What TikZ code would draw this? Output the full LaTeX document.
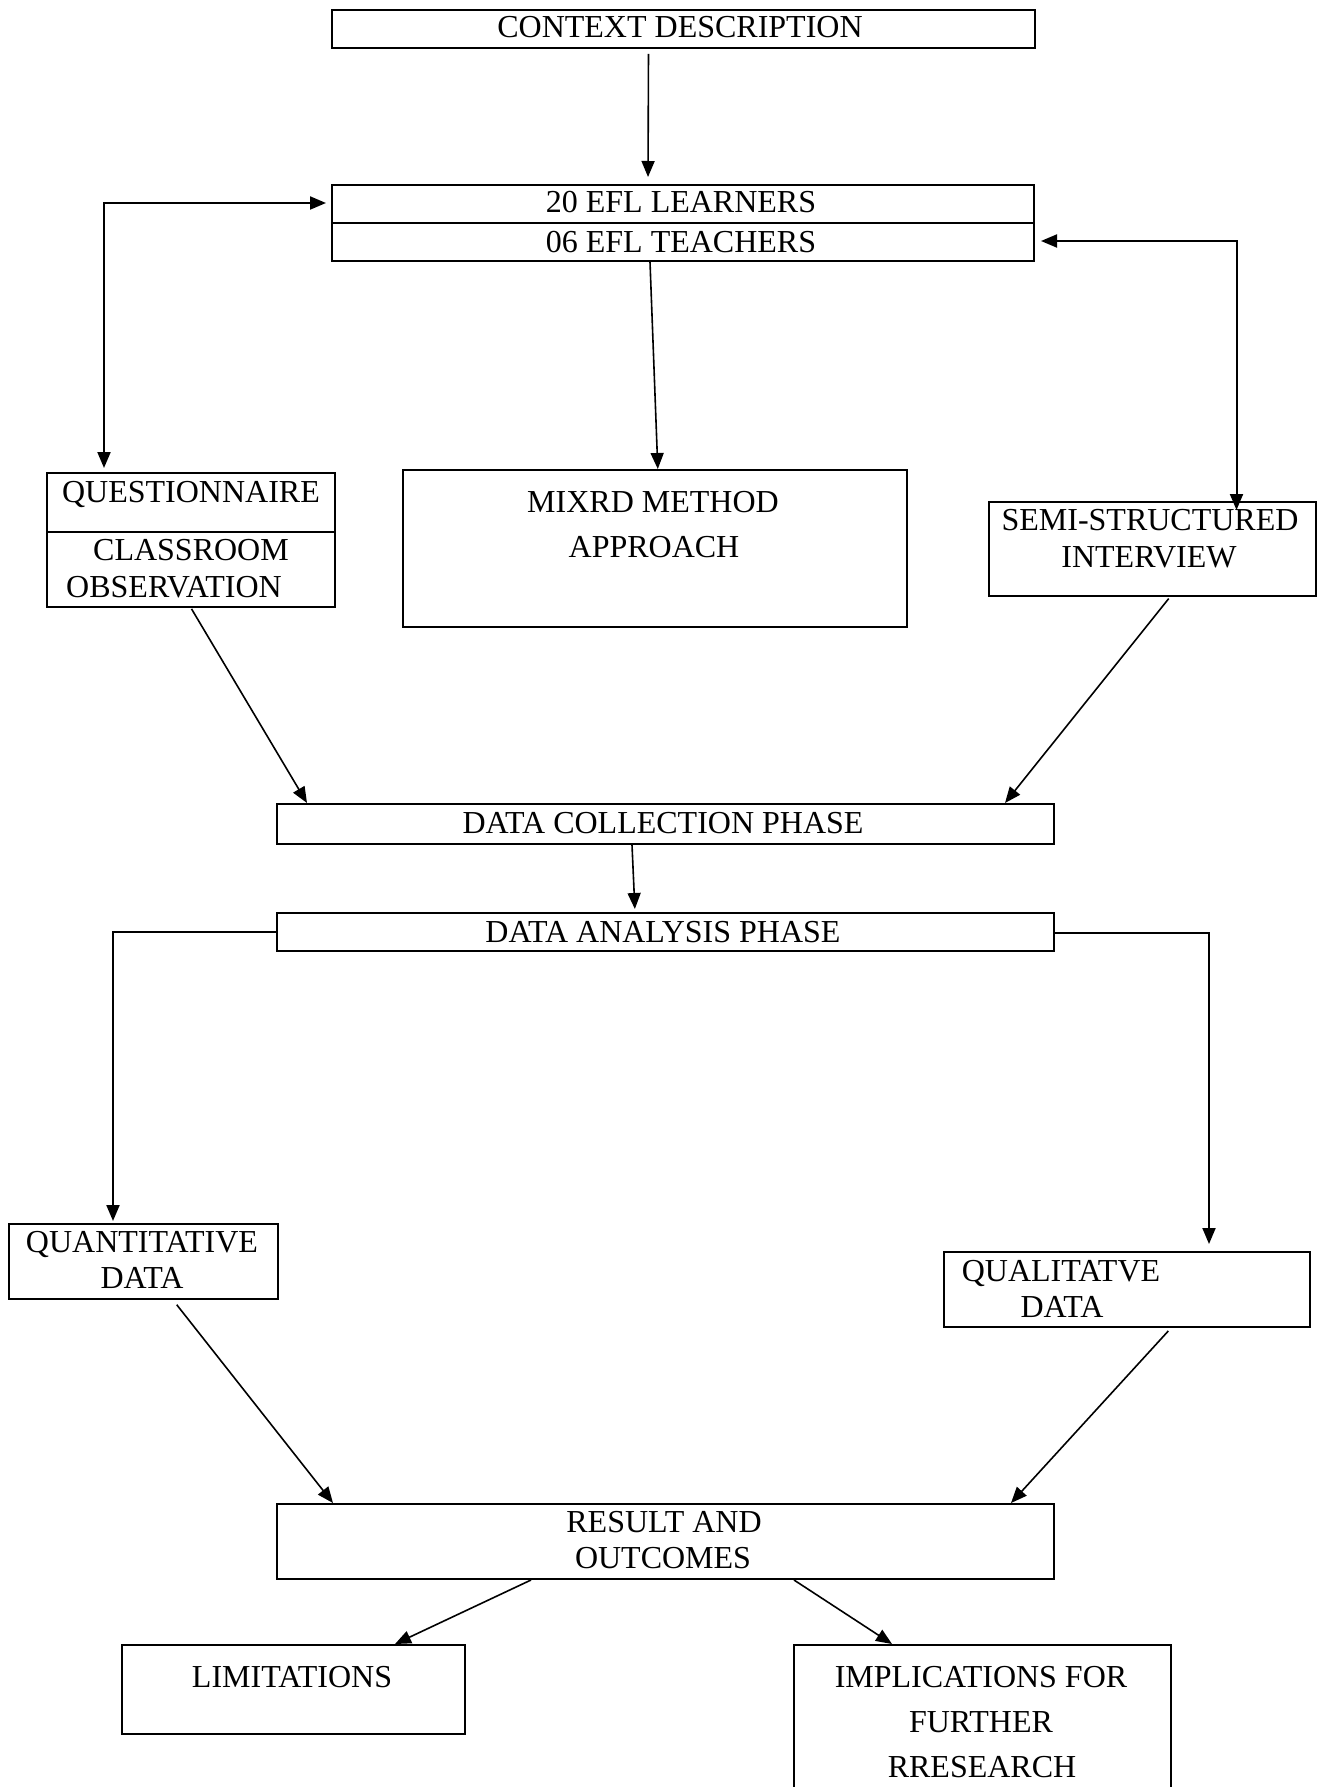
\documentclass[tikz,border=0pt]{standalone}
\usepackage{fontspec}
\setmainfont{Liberation Serif}
\usetikzlibrary{arrows.meta}
\begin{document}
\begin{tikzpicture}[x=1pt,y=-1pt,
  box/.style={draw, line width=2pt, rectangle, inner sep=0pt, anchor=north west},
  lbl/.style={anchor=base, inner sep=0pt, font=\fontsize{32}{36}\selectfont},
  tip/.tip={Triangle[length=16pt,width=13pt]},
  link/.style={line width=1.6pt, -tip},
  elbow/.style={line width=2pt}]
\useasboundingbox (0,0) rectangle (1323,1787);

% boxes
\node[box, minimum width=703pt, minimum height=38pt] (ctx)   at (331,9) {};
\node[box, minimum width=702pt, minimum height=38pt] (learn) at (331,184) {};
\node[box, minimum width=702pt, minimum height=38pt] (teach) at (331,222) {};
\node[box, minimum width=288pt, minimum height=59pt] (quest) at (46,472) {};
\node[box, minimum width=288pt, minimum height=75pt] (obs)   at (46,531) {};
\node[box, minimum width=504pt, minimum height=157pt, line width=1.6pt] (mix) at (402,469) {};
\node[box, minimum width=327pt, minimum height=94pt] (semi)  at (988,501) {};
\node[box, minimum width=777pt, minimum height=40pt] (coll)  at (276,803) {};
\node[box, minimum width=777pt, minimum height=38pt] (anal)  at (276,912) {};
\node[box, minimum width=269pt, minimum height=75pt] (quant) at (8,1223) {};
\node[box, minimum width=366pt, minimum height=75pt] (qual)  at (943,1251) {};
\node[box, minimum width=777pt, minimum height=75pt] (res)   at (276,1503) {};
\node[box, minimum width=343pt, minimum height=89pt] (lim)   at (121,1644) {};
\node[box, minimum width=377pt, minimum height=170pt] (impl) at (793,1644) {};

% labels
\node[lbl] (t-ctx)   at (680,38)   {CONTEXT DESCRIPTION};
\node[lbl] (t-learn) at (681,213)  {20 EFL LEARNERS};
\node[lbl] (t-teach) at (681,252)  {06 EFL TEACHERS};
\node[lbl] (t-quest) at (191,502)  {QUESTIONNAIRE};
\node[lbl] (t-obs1)  at (191,560)  {CLASSROOM};
\node[lbl] (t-obs2)  at (174,597)  {OBSERVATION};
\node[lbl] (t-mix1)  at (653,512)  {MIXRD METHOD};
\node[lbl] (t-mix2)  at (654,557)  {APPROACH};
\node[lbl] (t-semi1) at (1150,530) {SEMI-STRUCTURED};
\node[lbl] (t-semi2) at (1149,567) {INTERVIEW};
\node[lbl] (t-coll)  at (663,833)  {DATA COLLECTION PHASE};
\node[lbl] (t-anal)  at (663,942)  {DATA ANALYSIS PHASE};
\node[lbl] (t-qn1)   at (142,1252) {QUANTITATIVE};
\node[lbl] (t-qn2)   at (142,1288) {DATA};
\node[lbl] (t-ql1)   at (1061,1281) {QUALITATVE};
\node[lbl] (t-ql2)   at (1062,1317) {DATA};
\node[lbl] (t-res1)  at (664,1532) {RESULT AND};
\node[lbl] (t-res2)  at (663,1568) {OUTCOMES};
\node[lbl] (t-lim)   at (292,1687) {LIMITATIONS};
\node[lbl] (t-imp1)  at (981,1687) {IMPLICATIONS FOR};
\node[lbl] (t-imp2)  at (981,1732) {FURTHER};
\node[lbl] (t-imp3)  at (982,1777) {RRESEARCH};

% straight connectors
\draw[link, shorten <=5pt, shorten >=7pt] ([xshift=-35pt]ctx.south) -- ([xshift=-35pt]learn.north);
\draw[link] ([xshift=-33pt]teach.south) -- ([xshift=3pt]mix.north);
\draw[link, shorten <=1pt] ([xshift=0pt]obs.south) -- ([xshift=31pt]coll.north west);
\draw[link, shorten <=2pt] ([xshift=17.5pt]semi.south) -- ([xshift=-50pt]coll.north east);
\draw[link, shorten >=3pt] ([xshift=-33.5pt]coll.south) -- ([xshift=-30.5pt]anal.north);
\draw[link, shorten <=6pt] ([xshift=29.5pt]quant.south) -- ([xshift=57pt]res.north west);
\draw[link, shorten <=4pt] ([xshift=44pt]qual.south) -- ([xshift=-44pt]res.north east);
\draw[link] ([xshift=-134.5pt]res.south) -- ([xshift=101.5pt]lim.north);
\draw[link] ([xshift=128.5pt]res.south) -- ([xshift=-90.5pt]impl.north);

% elbow connectors
\draw[elbow, tip-tip, shorten <=5pt, shorten >=4pt]
  ([yshift=1pt]learn.west) -| ([xshift=-87pt]quest.north);
\draw[elbow, tip-tip, shorten <=6pt]
  ([yshift=1pt]teach.east) -| ([xshift=84pt,yshift=-9pt]semi.north);
\draw[elbow, -tip, shorten >=2pt]
  ([yshift=0pt]anal.west) -| ([xshift=-30.5pt]quant.north);
\draw[elbow, -tip, shorten >=7pt]
  ([yshift=-1pt]anal.east) -| ([xshift=82pt]qual.north);
\end{tikzpicture}
\end{document}
